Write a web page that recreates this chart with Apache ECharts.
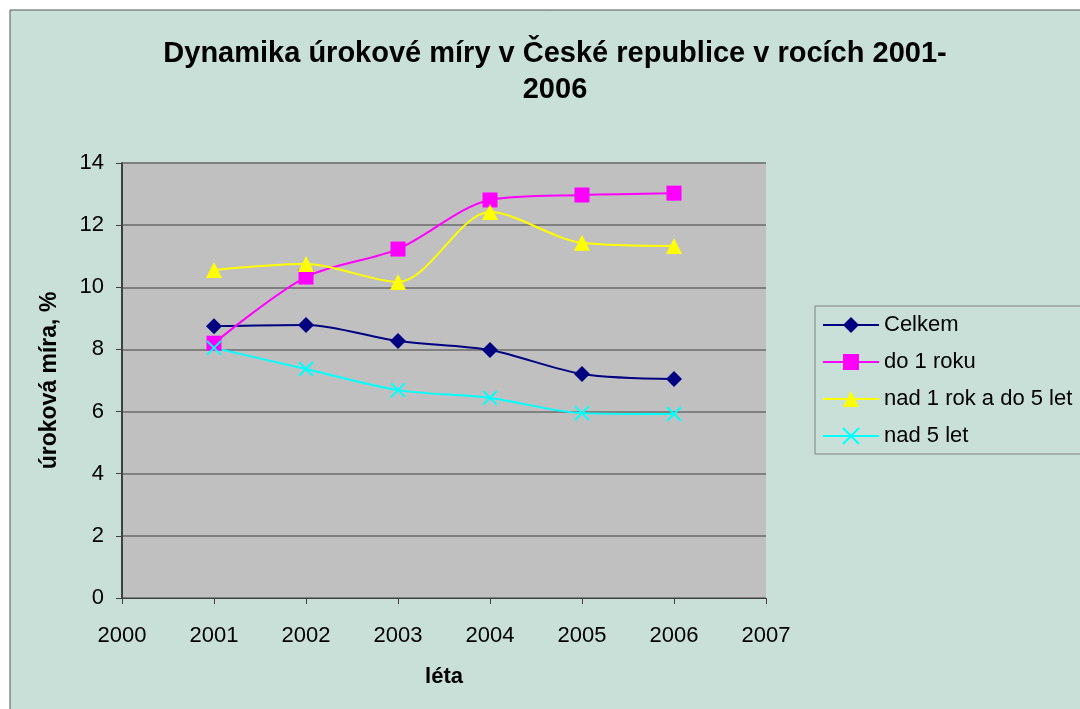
<!DOCTYPE html>
<html>
<head>
<meta charset="utf-8">
<script src="https://cdn.jsdelivr.net/npm/echarts@6/dist/echarts.min.js"></script>
<style>
  html, body { margin: 0; padding: 0; background: #ffffff; }
  #chart { width: 1080px; height: 709px; }
</style>
</head>
<body>
<div id="chart"></div>
<script>
// roky a hodnoty úrokové míry (%)
const years = [2001, 2002, 2003, 2004, 2005, 2006]
const celkem = [8.75, 8.79, 8.27, 7.98, 7.21, 7.05]
const do1Roku = [8.2, 10.33, 11.23, 12.81, 12.97, 13.03]
const nad1Do5 = [10.56, 10.75, 10.17, 12.42, 11.43, 11.33]
const nad5Let = [8.05, 7.37, 6.69, 6.44, 5.95, 5.92]

const FONT = '"Liberation Sans", Arial, sans-serif'
const AXIS_COLOR = '#404040'

const pairs = (vals) => years.map((y, i) => [y, vals[i]])

const mkSeries = (name, vals, color, symbol, size, itemStyle) => ({
    name,
    type: 'line',
    smooth: 0.3,
    data: pairs(vals),
    symbol,
    symbolSize: size,
    lineStyle: { color, width: 2 },
    itemStyle: itemStyle || { color },
    emphasis: { disabled: true },
})

const chart = echarts.init(document.getElementById('chart'), null, { renderer: 'canvas' })

chart.setOption({
    animation: false,
    backgroundColor: '#ffffff',
    graphic: [{
        type: 'rect',
        z: -10,
        shape: { x: 10, y: 10, width: 1080, height: 709 },
        style: { fill: '#c9e0d9', stroke: '#555555', lineWidth: 1 },
    }],
    title: {
        text: 'Dynamika úrokové míry v České republice v rocích 2001-\n2006',
        left: 550,
        textAlign: 'center',
        top: 31,
        textStyle: { fontFamily: FONT, fontSize: 29, fontWeight: 'bold', color: '#000', lineHeight: 36 },
    },
    legend: {
        orient: 'vertical',
        left: 815,
        top: 306,
        padding: [7, 10, 6, 7],
        itemGap: 13,
        itemWidth: 56,
        itemHeight: 20,
        backgroundColor: '#c9e0d9',
        borderColor: '#808080',
        borderWidth: 1,
        textStyle: { fontFamily: FONT, fontSize: 22, color: '#000', lineHeight: 24 },
        data: ['Celkem', 'do 1 roku', 'nad 1 rok a do 5 let', 'nad 5 let'],
    },
    grid: { left: 122, top: 163, width: 644, height: 435, show: true, backgroundColor: '#c0c0c0', borderWidth: 0 },
    xAxis: {
        type: 'value',
        min: 2000,
        max: 2007,
        interval: 1,
        name: 'léta',
        nameLocation: 'middle',
        nameGap: 68,
        nameTextStyle: { fontFamily: FONT, fontSize: 22, fontWeight: 'bold', color: '#000' },
        axisLine: { lineStyle: { color: AXIS_COLOR, width: 1 } },
        axisTick: { show: true, length: 6, lineStyle: { color: AXIS_COLOR } },
        axisLabel: { fontFamily: FONT, fontSize: 22, color: '#000', margin: 27, formatter: (v) => String(v) },
        splitLine: { show: false },
    },
    yAxis: {
        type: 'value',
        min: 0,
        max: 14,
        interval: 2,
        name: 'úroková míra, %',
        nameLocation: 'middle',
        nameGap: 61,
        nameTextStyle: { fontFamily: FONT, fontSize: 23, fontWeight: 'bold', color: '#000' },
        axisLine: { show: true, lineStyle: { color: AXIS_COLOR, width: 2 } },
        axisTick: { show: true, length: 6, lineStyle: { color: AXIS_COLOR } },
        axisLabel: { fontFamily: FONT, fontSize: 22, color: '#000', margin: 18 },
        splitLine: { show: true, lineStyle: { color: '#808080', width: 2 } },
    },
    series: [
        mkSeries('Celkem', celkem, '#000080', 'diamond', 16),
        mkSeries('do 1 roku', do1Roku, '#ff00ff', 'rect', 15),
        mkSeries('nad 1 rok a do 5 let', nad1Do5, '#ffff00', 'triangle', 16),
        mkSeries('nad 5 let', nad5Let, '#00ffff', 'path://M0,0L10,10M10,0L0,10', 14,
            { color: 'none', borderColor: '#00ffff', borderWidth: 2 }),
    ],
})
</script>
</body>
</html>
